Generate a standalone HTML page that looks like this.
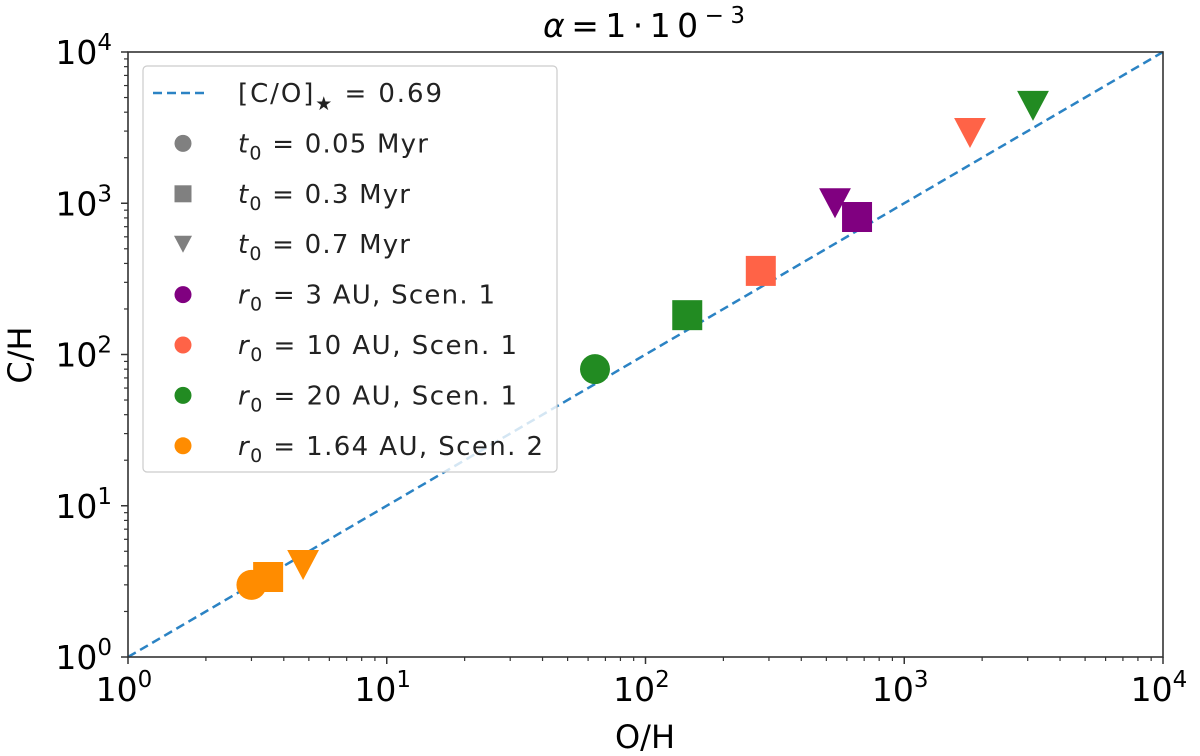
<!DOCTYPE html>
<html><head><meta charset="utf-8"><style>
html,body{margin:0;padding:0;background:#fff;}
svg{display:block;font-family:"DejaVu Sans","Liberation Sans",sans-serif;}
</style></head><body>
<svg id="chart" width="1200" height="756" viewBox="0 0 1200 756">
</svg>
<script>
const xVals=[3.0,3.48,4.75, 63.8,145,3145, 279,1795, 540,657];
const yVals=[3.0,3.38,4.06, 80,182,4400, 357,2913, 1000,811];
const markers=['o','s','v','o','s','v','s','v','v','s'];
const groups=['orange','orange','orange','green','green','green','red','red','purple','purple'];
const colors={purple:'#800080',red:'#ff6347',green:'#228b22',orange:'#ff8c00'};
const tickExps=[0,1,2,3,4];
const ratio=[1,1];
const X0=128,X1=1163,Y0=657,Y1=52;
const sx=v=>X0+(Math.log10(v)/4)*(X1-X0);
const sy=v=>Y0-(Math.log10(v)/4)*(Y0-Y1);
const svg=document.getElementById('chart');
const NS='http://www.w3.org/2000/svg';
function mk(tag,attrs,parent){const e=document.createElementNS(NS,tag);for(const k in attrs)e.setAttribute(k,attrs[k]);(parent||svg).appendChild(e);return e;}
// title
let t=mk('text',{x:543,y:37,'font-size':33,textLength:202,lengthAdjust:'spacing'});


t.innerHTML='<tspan font-style="italic">α</tspan>=1·10<tspan dy="-14" font-size="23">−3</tspan>';
// ticks
const tg=mk('g',{stroke:'#333','stroke-width':1.2});


for(let e=0;e<4;e++){for(let m=2;m<10;m++){const v=m*Math.pow(10,e);
 mk('line',{x1:sx(v),x2:sx(v),y1:Y0,y2:Y0+4},tg);
 mk('line',{x1:X0,x2:X0-4,y1:sy(v),y2:sy(v)},tg);}}
tickExps.forEach(e=>{const v=Math.pow(10,e);
 mk('line',{x1:sx(v),x2:sx(v),y1:Y0,y2:Y0+7,'stroke-width':1.5},tg);
 mk('line',{x1:X0,x2:X0-7,y1:sy(v),y2:sy(v),'stroke-width':1.5},tg);
 const a=mk('text',{x:sx(v)-4,y:Y0+44,'text-anchor':'middle','font-size':33});
 
 
 a.innerHTML='10<tspan dy="-14" font-size="23">'+e+'</tspan>';
 const b=mk('text',{x:X0-16,y:sy(v)+12,'text-anchor':'end','font-size':33});
 
 
 b.innerHTML='10<tspan dy="-14" font-size="23">'+e+'</tspan>';
});
// axis titles
let xl=mk('text',{x:645,y:748,'text-anchor':'middle','font-size':32});xl.textContent='O/H';


let yl=mk('text',{x:0,y:0,'text-anchor':'middle','font-size':32,transform:'translate(31,355) rotate(-90)'});yl.textContent='C/H';


// ratio line
let ln=mk('line',{x1:sx(ratio[0]),y1:sy(ratio[1]),x2:sx(1e4),y2:sy(1e4),stroke:'#2b83c4','stroke-width':2.5,'stroke-dasharray':'9,5'});


// points
function marker(type,cx,cy,col,s,parent){
 if(type==='o')return mk('circle',{cx:cx,cy:cy,r:s*0.5,fill:col},parent);
 if(type==='s')return mk('rect',{x:cx-s/2,y:cy-s/2,width:s,height:s,fill:col},parent);
 return mk('polygon',{points:`${cx-s*0.53},${cy-s/2} ${cx+s*0.53},${cy-s/2} ${cx},${cy+s/2}`,fill:col},parent);
}
xVals.forEach((xv,i)=>{const m=marker(markers[i],sx(xv),sy(yVals[i]),colors[groups[i]],30);
 
 });
// frame
let fr=mk('rect',{x:X0,y:Y1,width:X1-X0,height:Y0-Y1,fill:'none',stroke:'#333','stroke-width':1.6});


// legend
const lg=mk('g',{});


mk('rect',{x:143,y:66,width:414,height:406,rx:4,fill:'rgba(255,255,255,0.8)',stroke:'#ccc','stroke-width':1.2},lg);
const sub='<tspan dy="7" font-size="19">0</tspan><tspan dy="-7">';
const rows=[
 ['line','#2b83c4','[C/O]<tspan dy="8" font-size="19">★</tspan><tspan dy="-8"> = 0.69</tspan>',204],
 ['o','#808080','<tspan font-style="italic">t</tspan>'+sub+' = 0.05 Myr</tspan>',190],
 ['s','#808080','<tspan font-style="italic">t</tspan>'+sub+' = 0.3 Myr</tspan>',172],
 ['v','#808080','<tspan font-style="italic">t</tspan>'+sub+' = 0.7 Myr</tspan>',172],
 ['o','#800080','<tspan font-style="italic">r</tspan>'+sub+' = 3 AU, Scen. 1</tspan>',257],
 ['o','#ff6347','<tspan font-style="italic">r</tspan>'+sub+' = 10 AU, Scen. 1</tspan>',279],
 ['o','#228b22','<tspan font-style="italic">r</tspan>'+sub+' = 20 AU, Scen. 1</tspan>',279],
 ['o','#ff8c00','<tspan font-style="italic">r</tspan>'+sub+' = 1.64 AU, Scen. 2</tspan>',305]];
rows.forEach((r,i)=>{const y=93+i*50.4;
 if(r[0]==='line')mk('line',{x1:153,x2:208,y1:y,y2:y,stroke:r[1],'stroke-width':2.5,'stroke-dasharray':'9,5'},lg);
 else marker(r[0],183,y,r[1],17,lg);
 const tx=mk('text',{x:238,y:y+9,'font-size':26,fill:'#222',textLength:r[3],lengthAdjust:'spacing'},lg);
 
 
 tx.innerHTML=r[2];});
</script>
</body></html>
